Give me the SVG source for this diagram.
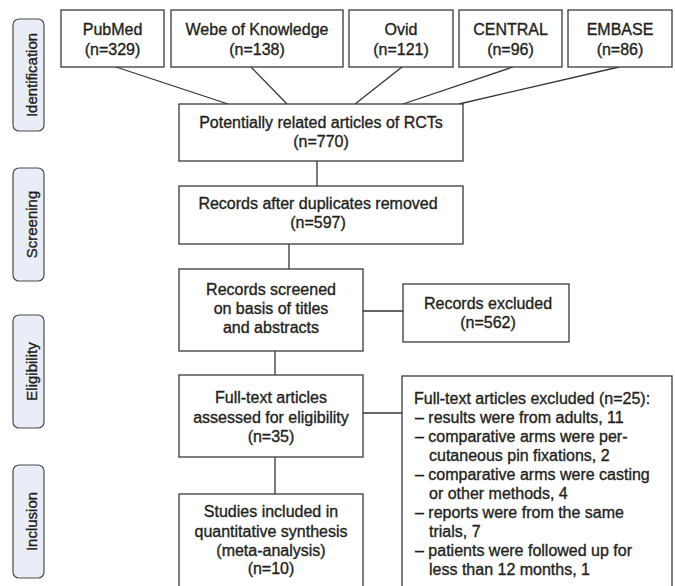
<svg xmlns="http://www.w3.org/2000/svg" width="675" height="586" viewBox="0 0 675 586">
<style>
.box{fill:#fff;stroke:#3a3a3a;stroke-width:1.3}
.lab{fill:#e8edf8;stroke:#4a4a4a;stroke-width:1.2}
.t,.tl,.s{font-family:"Liberation Sans",Arial,sans-serif;font-size:16px;fill:#231f20;stroke:#231f20;stroke-width:0.35}
.t{text-anchor:middle}
.s{font-size:15px;text-anchor:middle}
.c{stroke:#333;stroke-width:1.3;fill:none}
</style>
<rect width="675" height="586" fill="#fff"/>
<g id="stage-identification"><rect class="lab" x="13" y="19" width="31" height="112" rx="6"/><text class="s" transform="translate(37,75) rotate(-90)">Identification</text></g>
<g id="stage-screening"><rect class="lab" x="13" y="168" width="31" height="113" rx="6"/><text class="s" transform="translate(37,224.5) rotate(-90)">Screening</text></g>
<g id="stage-eligibility"><rect class="lab" x="13" y="315" width="31" height="113" rx="6"/><text class="s" transform="translate(37,371.5) rotate(-90)">Eligibility</text></g>
<g id="stage-inclusion"><rect class="lab" x="13" y="465" width="31" height="113" rx="6"/><text class="s" transform="translate(37,521.5) rotate(-90)">Inclusion</text></g>
<g id="connectors">
<line class="c" x1="116" y1="67" x2="228" y2="104"/>
<line class="c" x1="251" y1="67" x2="287" y2="104"/>
<line class="c" x1="402" y1="67" x2="355" y2="104"/>
<line class="c" x1="513" y1="67" x2="403" y2="104"/>
<line class="c" x1="619" y1="67" x2="459" y2="104"/>
<line class="c" x1="317" y1="161" x2="317" y2="186"/>
<line class="c" x1="289" y1="244" x2="289" y2="269"/>
<line class="c" x1="363" y1="311" x2="403" y2="311"/>
<line class="c" x1="275" y1="351" x2="275" y2="375"/>
<line class="c" x1="363" y1="413" x2="402" y2="413"/>
<line class="c" x1="275" y1="457" x2="275" y2="494"/>
</g>
<g id="pubmed"><rect class="box" x="61" y="10" width="103" height="57"/><text class="t" x="112.5" y="35">PubMed</text><text class="t" x="112.5" y="55">(n=329)</text></g>
<g id="wok"><rect class="box" x="171" y="10" width="172" height="57"/><text class="t" x="257" y="35">Webe of Knowledge</text><text class="t" x="257" y="55">(n=138)</text></g>
<g id="ovid"><rect class="box" x="349" y="10" width="104" height="57"/><text class="t" x="401" y="35">Ovid</text><text class="t" x="401" y="55">(n=121)</text></g>
<g id="central"><rect class="box" x="459" y="10" width="103" height="57"/><text class="t" x="510.5" y="35">CENTRAL</text><text class="t" x="510.5" y="55">(n=96)</text></g>
<g id="embase"><rect class="box" x="568" y="10" width="104" height="57"/><text class="t" x="620" y="35">EMBASE</text><text class="t" x="620" y="55">(n=86)</text></g>
<g id="potential"><rect class="box" x="179" y="104" width="284" height="57"/><text class="t" x="321" y="128">Potentially related articles of RCTs</text><text class="t" x="321" y="147">(n=770)</text></g>
<g id="dedup"><rect class="box" x="179" y="186" width="284" height="58"/><text class="t" x="318" y="209">Records after duplicates removed</text><text class="t" x="318" y="228">(n=597)</text></g>
<g id="screened"><rect class="box" x="179" y="269" width="184" height="82"/><text class="t" x="271" y="295">Records screened</text><text class="t" x="271" y="314">on basis of titles</text><text class="t" x="271" y="333">and abstracts</text></g>
<g id="excluded"><rect class="box" x="403" y="284" width="166" height="58"/><text class="t" x="488" y="309">Records excluded</text><text class="t" x="488" y="328">(n=562)</text></g>
<g id="fulltext"><rect class="box" x="179" y="375" width="184" height="82"/><text class="t" x="271" y="403">Full-text articles</text><text class="t" x="271" y="423">assessed for eligibility</text><text class="t" x="271" y="442">(n=35)</text></g>
<g id="included"><rect class="box" x="179" y="494" width="184" height="110"/><text class="t" x="271" y="517">Studies included in</text><text class="t" x="271" y="537">quantitative synthesis</text><text class="t" x="271" y="556">(meta-analysis)</text><text class="t" x="271" y="574">(n=10)</text></g>
<g id="ft-excluded"><rect class="box" x="402" y="376" width="270" height="228"/>
<text class="tl" x="414" y="404">Full-text articles excluded (n=25):</text>
<text class="tl" x="415" y="423">– results were from adults, 11</text>
<text class="tl" x="415" y="442">– comparative arms were per-</text>
<text class="tl" x="429" y="461">cutaneous pin fixations, 2</text>
<text class="tl" x="415" y="480">– comparative arms were casting</text>
<text class="tl" x="429" y="499">or other methods, 4</text>
<text class="tl" x="415" y="518">– reports were from the same</text>
<text class="tl" x="429" y="537">trials, 7</text>
<text class="tl" x="415" y="556">– patients were followed up for</text>
<text class="tl" x="429" y="575">less than 12 months, 1</text>
</g>
</svg>
